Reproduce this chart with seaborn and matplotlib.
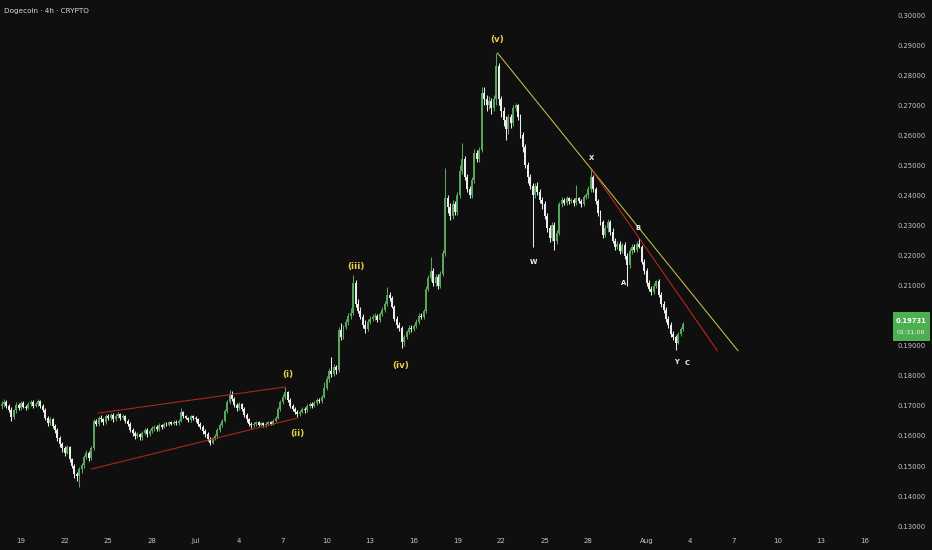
import numpy as np
import pandas as pd
import matplotlib
matplotlib.use("Agg")
import matplotlib.pyplot as plt
import matplotlib.dates as mdates
from matplotlib.patches import Rectangle
import seaborn as sns

# Dogecoin 4h candles (2025-06-17 16:00 -> 2025-08-03 12:00)
start_time = "2025-06-17 16:00"
first_open = 0.1700

closes = [
    0.1705, 0.1712,                                   # Jun 17 (16h, 20h)
    0.1700, 0.1688, 0.1662, 0.1685, 0.1702, 0.1694,   # Jun 18
    0.1710, 0.1698, 0.1694, 0.1706, 0.1713, 0.1700,   # Jun 19
    0.1706, 0.1715, 0.1700, 0.1688, 0.1660, 0.1642,   # Jun 20
    0.1655, 0.1632, 0.1620, 0.1592, 0.1572, 0.1560,   # Jun 21
    0.1545, 0.1562, 0.1522, 0.1500, 0.1472, 0.1466,   # Jun 22
    0.1490, 0.1502, 0.1530, 0.1545, 0.1526, 0.1560,   # Jun 23
    0.1650, 0.1640, 0.1660, 0.1655, 0.1645, 0.1665,   # Jun 24
    0.1660, 0.1670, 0.1655, 0.1668, 0.1672, 0.1660,   # Jun 25
    0.1665, 0.1650, 0.1640, 0.1620, 0.1610, 0.1600,   # Jun 26
    0.1605, 0.1595, 0.1610, 0.1620, 0.1605, 0.1615,   # Jun 27
    0.1625, 0.1630, 0.1622, 0.1635, 0.1630, 0.1640,   # Jun 28
    0.1638, 0.1645, 0.1640, 0.1648, 0.1642, 0.1650,   # Jun 29
    0.1680, 0.1665, 0.1660, 0.1652, 0.1665, 0.1660,   # Jun 30
    0.1655, 0.1640, 0.1630, 0.1615, 0.1605, 0.1590,   # Jul 1
    0.1578, 0.1592, 0.1600, 0.1620, 0.1635, 0.1650,   # Jul 2
    0.1682, 0.1712, 0.1740, 0.1722, 0.1702, 0.1692,   # Jul 3
    0.1705, 0.1690, 0.1670, 0.1655, 0.1640, 0.1635,   # Jul 4
    0.1640, 0.1645, 0.1638, 0.1642, 0.1635, 0.1640,   # Jul 5
    0.1645, 0.1640, 0.1650, 0.1660, 0.1690, 0.1712,   # Jul 6
    0.1730, 0.1745, 0.1720, 0.1700, 0.1690, 0.1680,   # Jul 7
    0.1672, 0.1680, 0.1690, 0.1685, 0.1700, 0.1705,   # Jul 8
    0.1700, 0.1710, 0.1720, 0.1715, 0.1730, 0.1760,   # Jul 9
    0.1790, 0.1815, 0.1805, 0.1830, 0.1820, 0.1952,   # Jul 10
    0.1930, 0.1962, 0.1980, 0.2000, 0.2010, 0.2110,   # Jul 11
    0.2040, 0.2015, 0.1995, 0.1970, 0.1955, 0.1980,   # Jul 12
    0.1990, 0.1995, 0.2000, 0.1985, 0.2005, 0.2020,   # Jul 13
    0.2040, 0.2070, 0.2060, 0.2030, 0.1990, 0.1970,   # Jul 14
    0.1960, 0.1912, 0.1930, 0.1945, 0.1960, 0.1955,   # Jul 15
    0.1965, 0.1980, 0.2000, 0.1995, 0.2015, 0.2090,   # Jul 16
    0.2125, 0.2150, 0.2110, 0.2130, 0.2100, 0.2140,   # Jul 17
    0.2210, 0.2390, 0.2360, 0.2330, 0.2370, 0.2345,   # Jul 18
    0.2400, 0.2480, 0.2520, 0.2460, 0.2420, 0.2400,   # Jul 19
    0.2450, 0.2540, 0.2520, 0.2550, 0.2740, 0.2720,   # Jul 20
    0.2700, 0.2715, 0.2690, 0.2720, 0.2830, 0.2720,   # Jul 21
    0.2680, 0.2650, 0.2620, 0.2660, 0.2640, 0.2690,   # Jul 22
    0.2700, 0.2660, 0.2600, 0.2560, 0.2500, 0.2460,   # Jul 23
    0.2430, 0.2400, 0.2430, 0.2410, 0.2385, 0.2370,   # Jul 24
    0.2330, 0.2290, 0.2260, 0.2300, 0.2250, 0.2275,   # Jul 25
    0.2370, 0.2385, 0.2375, 0.2390, 0.2380, 0.2385,   # Jul 26
    0.2375, 0.2390, 0.2380, 0.2370, 0.2395, 0.2400,   # Jul 27
    0.2420, 0.2460, 0.2420, 0.2380, 0.2340, 0.2310,   # Jul 28
    0.2270, 0.2290, 0.2310, 0.2280, 0.2250, 0.2230,   # Jul 29
    0.2240, 0.2215, 0.2235, 0.2200, 0.2170, 0.2215,   # Jul 30
    0.2230, 0.2220, 0.2240, 0.2230, 0.2180, 0.2150,   # Jul 31
    0.2110, 0.2090, 0.2080, 0.2100, 0.2115, 0.2070,   # Aug 1
    0.2040, 0.2020, 0.1990, 0.1970, 0.1940, 0.1930,   # Aug 2
    0.1910, 0.1940, 0.1955, 0.19731,                  # Aug 3
]

highs = [
    0.1715, 0.1722,
    0.1718, 0.1706, 0.1695, 0.1690, 0.1712, 0.1708,
    0.1716, 0.1715, 0.1704, 0.1712, 0.1720, 0.1718,
    0.1712, 0.1722, 0.1719, 0.1706, 0.1692, 0.1668,
    0.1662, 0.1660, 0.1640, 0.1626, 0.1600, 0.1580,
    0.1568, 0.1570, 0.1568, 0.1528, 0.1506, 0.1480,
    0.1496, 0.1510, 0.1538, 0.1552, 0.1550, 0.1568,
    0.1658, 0.1656, 0.1668, 0.1670, 0.1660, 0.1672,
    0.1672, 0.1678, 0.1676, 0.1674, 0.1680, 0.1678,
    0.1674, 0.1670, 0.1656, 0.1646, 0.1628, 0.1618,
    0.1612, 0.1610, 0.1616, 0.1628, 0.1626, 0.1622,
    0.1632, 0.1638, 0.1636, 0.1642, 0.1640, 0.1646,
    0.1646, 0.1650, 0.1650, 0.1654, 0.1652, 0.1656,
    0.1693, 0.1684, 0.1670, 0.1664, 0.1670, 0.1670,
    0.1666, 0.1660, 0.1646, 0.1636, 0.1622, 0.1612,
    0.1596, 0.1598, 0.1606, 0.1626, 0.1642, 0.1656,
    0.1690, 0.1720, 0.1753, 0.1748, 0.1728, 0.1710,
    0.1712, 0.1710, 0.1696, 0.1676, 0.1660, 0.1646,
    0.1646, 0.1650, 0.1650, 0.1646, 0.1648, 0.1645,
    0.1650, 0.1650, 0.1655, 0.1666, 0.1696, 0.1720,
    0.1738, 0.1763, 0.1750, 0.1726, 0.1706, 0.1696,
    0.1686, 0.1686, 0.1696, 0.1696, 0.1706, 0.1712,
    0.1712, 0.1716, 0.1726, 0.1726, 0.1736, 0.1778,
    0.1800, 0.1825, 0.1863, 0.1840, 0.1836, 0.1962,
    0.1975, 0.1970, 0.1990, 0.2010, 0.2025, 0.2135,
    0.2120, 0.2055, 0.2030, 0.2005, 0.1985, 0.1988,
    0.1998, 0.2004, 0.2008, 0.2006, 0.2012, 0.2030,
    0.2050, 0.2096, 0.2080, 0.2066, 0.2036, 0.1998,
    0.1978, 0.1966, 0.1936, 0.1952, 0.1968, 0.1968,
    0.1972, 0.1988, 0.2010, 0.2008, 0.2022, 0.2100,
    0.2135, 0.2195, 0.2160, 0.2140, 0.2138, 0.2150,
    0.2220, 0.2490, 0.2400, 0.2375, 0.2385, 0.2380,
    0.2410, 0.2500, 0.2574, 0.2530, 0.2470, 0.2432,
    0.2460, 0.2555, 0.2550, 0.2560, 0.2760, 0.2760,
    0.2735, 0.2730, 0.2725, 0.2735, 0.2874, 0.2840,
    0.2730, 0.2695, 0.2665, 0.2670, 0.2672, 0.2700,
    0.2707, 0.2705, 0.2670, 0.2610, 0.2570, 0.2510,
    0.2470, 0.2440, 0.2440, 0.2445, 0.2420, 0.2395,
    0.2380, 0.2340, 0.2300, 0.2310, 0.2310, 0.2285,
    0.2378, 0.2395, 0.2392, 0.2398, 0.2396, 0.2392,
    0.2392, 0.2435, 0.2395, 0.2388, 0.2400, 0.2408,
    0.2430, 0.2485, 0.2468, 0.2428, 0.2388, 0.2350,
    0.2318, 0.2300, 0.2320, 0.2318, 0.2290, 0.2258,
    0.2250, 0.2248, 0.2242, 0.2245, 0.2210, 0.2225,
    0.2240, 0.2238, 0.2250, 0.2258, 0.2236, 0.2188,
    0.2158, 0.2118, 0.2098, 0.2108, 0.2120, 0.2122,
    0.2078, 0.2050, 0.2030, 0.2000, 0.1980, 0.1950,
    0.1936, 0.1946, 0.1962, 0.1978,
]

lows = [
    0.1690, 0.1698,
    0.1692, 0.1680, 0.1650, 0.1655, 0.1678, 0.1688,
    0.1688, 0.1692, 0.1686, 0.1689, 0.1700, 0.1694,
    0.1695, 0.1700, 0.1694, 0.1680, 0.1652, 0.1632,
    0.1636, 0.1625, 0.1610, 0.1584, 0.1562, 0.1548,
    0.1535, 0.1540, 0.1515, 0.1492, 0.1460, 0.1450,
    0.1430, 0.1478, 0.1495, 0.1522, 0.1518, 0.1520,
    0.1555, 0.1632, 0.1634, 0.1648, 0.1638, 0.1640,
    0.1652, 0.1654, 0.1648, 0.1650, 0.1660, 0.1654,
    0.1655, 0.1644, 0.1632, 0.1612, 0.1600, 0.1590,
    0.1592, 0.1586, 0.1588, 0.1604, 0.1598, 0.1600,
    0.1610, 0.1618, 0.1615, 0.1617, 0.1624, 0.1625,
    0.1632, 0.1632, 0.1636, 0.1635, 0.1637, 0.1638,
    0.1646, 0.1660, 0.1655, 0.1645, 0.1648, 0.1654,
    0.1648, 0.1634, 0.1624, 0.1608, 0.1598, 0.1582,
    0.1570, 0.1572, 0.1586, 0.1594, 0.1614, 0.1630,
    0.1645, 0.1676, 0.1706, 0.1716, 0.1696, 0.1684,
    0.1686, 0.1684, 0.1664, 0.1648, 0.1634, 0.1628,
    0.1630, 0.1634, 0.1632, 0.1632, 0.1630, 0.1630,
    0.1635, 0.1635, 0.1636, 0.1645, 0.1655, 0.1684,
    0.1705, 0.1724, 0.1714, 0.1694, 0.1684, 0.1672,
    0.1662, 0.1666, 0.1675, 0.1678, 0.1680, 0.1694,
    0.1694, 0.1695, 0.1704, 0.1708, 0.1710, 0.1725,
    0.1752, 0.1780, 0.1795, 0.1798, 0.1805, 0.1812,
    0.1918, 0.1922, 0.1955, 0.1970, 0.1990, 0.2002,
    0.2030, 0.2008, 0.1988, 0.1960, 0.1942, 0.1948,
    0.1972, 0.1982, 0.1986, 0.1978, 0.1980, 0.1998,
    0.2012, 0.2032, 0.2050, 0.2024, 0.1984, 0.1960,
    0.1950, 0.1893, 0.1900, 0.1922, 0.1938, 0.1946,
    0.1948, 0.1958, 0.1974, 0.1988, 0.1990, 0.2010,
    0.2082, 0.2115, 0.2100, 0.2100, 0.2090, 0.2092,
    0.2132, 0.2200, 0.2340, 0.2318, 0.2320, 0.2335,
    0.2335, 0.2390, 0.2470, 0.2450, 0.2410, 0.2390,
    0.2392, 0.2440, 0.2510, 0.2510, 0.2545, 0.2700,
    0.2680, 0.2688, 0.2670, 0.2680, 0.2700, 0.2700,
    0.2660, 0.2630, 0.2585, 0.2605, 0.2625, 0.2630,
    0.2680, 0.2650, 0.2590, 0.2545, 0.2490, 0.2440,
    0.2420, 0.2228, 0.2390, 0.2400, 0.2375, 0.2355,
    0.2320, 0.2280, 0.2245, 0.2250, 0.2218, 0.2240,
    0.2268, 0.2362, 0.2368, 0.2368, 0.2372, 0.2374,
    0.2365, 0.2368, 0.2374, 0.2360, 0.2365, 0.2388,
    0.2392, 0.2412, 0.2412, 0.2370, 0.2330, 0.2300,
    0.2260, 0.2262, 0.2280, 0.2270, 0.2242, 0.2220,
    0.2222, 0.2205, 0.2208, 0.2190, 0.2100, 0.2160,
    0.2205, 0.2212, 0.2212, 0.2225, 0.2172, 0.2140,
    0.2100, 0.2082, 0.2070, 0.2072, 0.2092, 0.2062,
    0.2030, 0.2010, 0.1980, 0.1960, 0.1930, 0.1918,
    0.1886, 0.1905, 0.1932, 0.1950,
]

# axis ticks
price_ticks = [0.13, 0.14, 0.15, 0.16, 0.17, 0.18, 0.19, 0.20, 0.21,
               0.22, 0.23, 0.24, 0.25, 0.26, 0.27, 0.28, 0.29, 0.30]
date_ticks = ["2025-06-19", "2025-06-22", "2025-06-25", "2025-06-28", "2025-07-01",
              "2025-07-04", "2025-07-07", "2025-07-10", "2025-07-13", "2025-07-16",
              "2025-07-19", "2025-07-22", "2025-07-25", "2025-07-28", "2025-08-01",
              "2025-08-04", "2025-08-07", "2025-08-10", "2025-08-13", "2025-08-16"]
date_labels = ["19", "22", "25", "28", "Jul", "4", "7", "10", "13", "16",
               "19", "22", "25", "28", "Aug", "4", "7", "10", "13", "16"]

# drawn trendlines: (start time, start price, end time, end price, colour)
trendlines = [
    ("2025-06-24 07:00", 0.1676, "2025-07-07 04:00", 0.1763, "#b3261e"),
    ("2025-06-23 20:00", 0.1490, "2025-07-08 01:00", 0.1660, "#b3261e"),
    ("2025-07-21 18:00", 0.2874, "2025-08-07 07:00", 0.1883, "#c8c04a"),
    ("2025-07-28 07:00", 0.2481, "2025-08-05 21:00", 0.1883, "#c0281f"),
]

# wave labels
wave_text = ["(i)", "(ii)", "(iii)", "(iv)", "(v)"]
wave_time = ["2025-07-07 07:30", "2025-07-08 00:00", "2025-07-11 23:50",
             "2025-07-15 02:00", "2025-07-21 18:00"]
wave_price = [0.1806, 0.1607, 0.2162, 0.1836, 0.2917]

corr_text = ["W", "X", "Y", "A", "B", "C"]
corr_time = ["2025-07-24 05:45", "2025-07-28 05:30", "2025-08-03 02:00",
             "2025-07-30 10:20", "2025-07-31 09:40", "2025-08-03 18:30"]
corr_price = [0.2179, 0.2524, 0.1846, 0.2109, 0.2292, 0.1843]

last_price = "0.19731"
countdown = "01:31:06"

BG = "#0f0f0f"
UP = "#58a65b"
DOWN = "#ececec"
TEXT = "#c2c5cc"

sns.set_theme(style="dark", rc={"axes.facecolor": BG, "figure.facecolor": BG})
plt.rcParams["font.family"] = ["DejaVu Sans"]

fig = plt.figure(figsize=(9.32, 5.5), dpi=100)
ax = fig.add_axes([0, 20 / 550, 886 / 932, 530 / 550])
ax.set_facecolor(BG)

df = pd.DataFrame({
    "time": pd.date_range(start_time, periods=len(closes), freq="4h"),
    "close": closes,
    "high": highs,
    "low": lows,
})
df["open"] = df["close"].shift(1).fillna(first_open)
df["x"] = mdates.date2num(df["time"])
up = df["close"] >= df["open"]
colors = np.where(up, UP, DOWN)

# wicks and bodies
ax.vlines(df["x"], df["low"], df["high"], colors=colors, linewidth=0.75, zorder=2)
body_low = np.minimum(df["open"], df["close"])
body_h = np.maximum((df["close"] - df["open"]).abs(), 0.0004)
ax.bar(df["x"], body_h, bottom=body_low, width=0.135, color=colors,
       linewidth=0, zorder=3)

for t0, p0, t1, p1, col in trendlines:
    xs = mdates.date2num(pd.to_datetime([t0, t1]))
    sns.lineplot(x=xs, y=[p0, p1], ax=ax, color=col, linewidth=0.75, zorder=4)

for txt, t, p in zip(wave_text, wave_time, wave_price):
    ax.text(mdates.date2num(pd.Timestamp(t)), p, txt, color="#e3cf45",
            fontsize=6.3, fontweight="bold", ha="center", va="center", zorder=5)
for txt, t, p in zip(corr_text, corr_time, corr_price):
    ax.text(mdates.date2num(pd.Timestamp(t)), p, txt, color="#f0f0f0",
            fontsize=4.9, fontweight="bold", ha="center", va="center", zorder=5)

# axes
ax.set_xlim(mdates.date2num(pd.Timestamp("2025-06-17 13:20")),
            mdates.date2num(pd.Timestamp("2025-08-17 11:00")))
ax.set_ylim(0.12873, 0.30499)
ax.set_xticks(mdates.date2num(pd.to_datetime(date_ticks)))
ax.set_xticklabels(date_labels)
ax.yaxis.tick_right()
ax.set_yticks(price_ticks)
ax.set_yticklabels([f"{p:.5f}" for p in price_ticks])
ax.tick_params(axis="x", length=0, pad=6, labelsize=5, colors=TEXT)
ax.tick_params(axis="y", length=0, pad=8, labelsize=4.9, colors=TEXT)
ax.grid(False)
for s in ax.spines.values():
    s.set_visible(False)
ax.set_xlabel("")
ax.set_ylabel("")

fig.text(4 / 932, 1 - 11 / 550, "Dogecoin · 4h · CRYPTO", color="#d8dae0",
         fontsize=5.2, ha="left", va="center")

# last price tag
fig.patches.append(Rectangle((893 / 932, (550 - 341) / 550), 37 / 932, 29 / 550,
                             transform=fig.transFigure, facecolor="#4caf50",
                             edgecolor="none", zorder=10))
fig.text(911 / 932, 1 - 321 / 550, last_price, color="white", fontsize=4.9,
         fontweight="bold", ha="center", va="center", zorder=11)
fig.text(911 / 932, 1 - 333 / 550, countdown, color="#f2f2f2", fontsize=4.6,
         ha="center", va="center", zorder=11)

fig.savefig("out.png", dpi=100, facecolor=BG)
